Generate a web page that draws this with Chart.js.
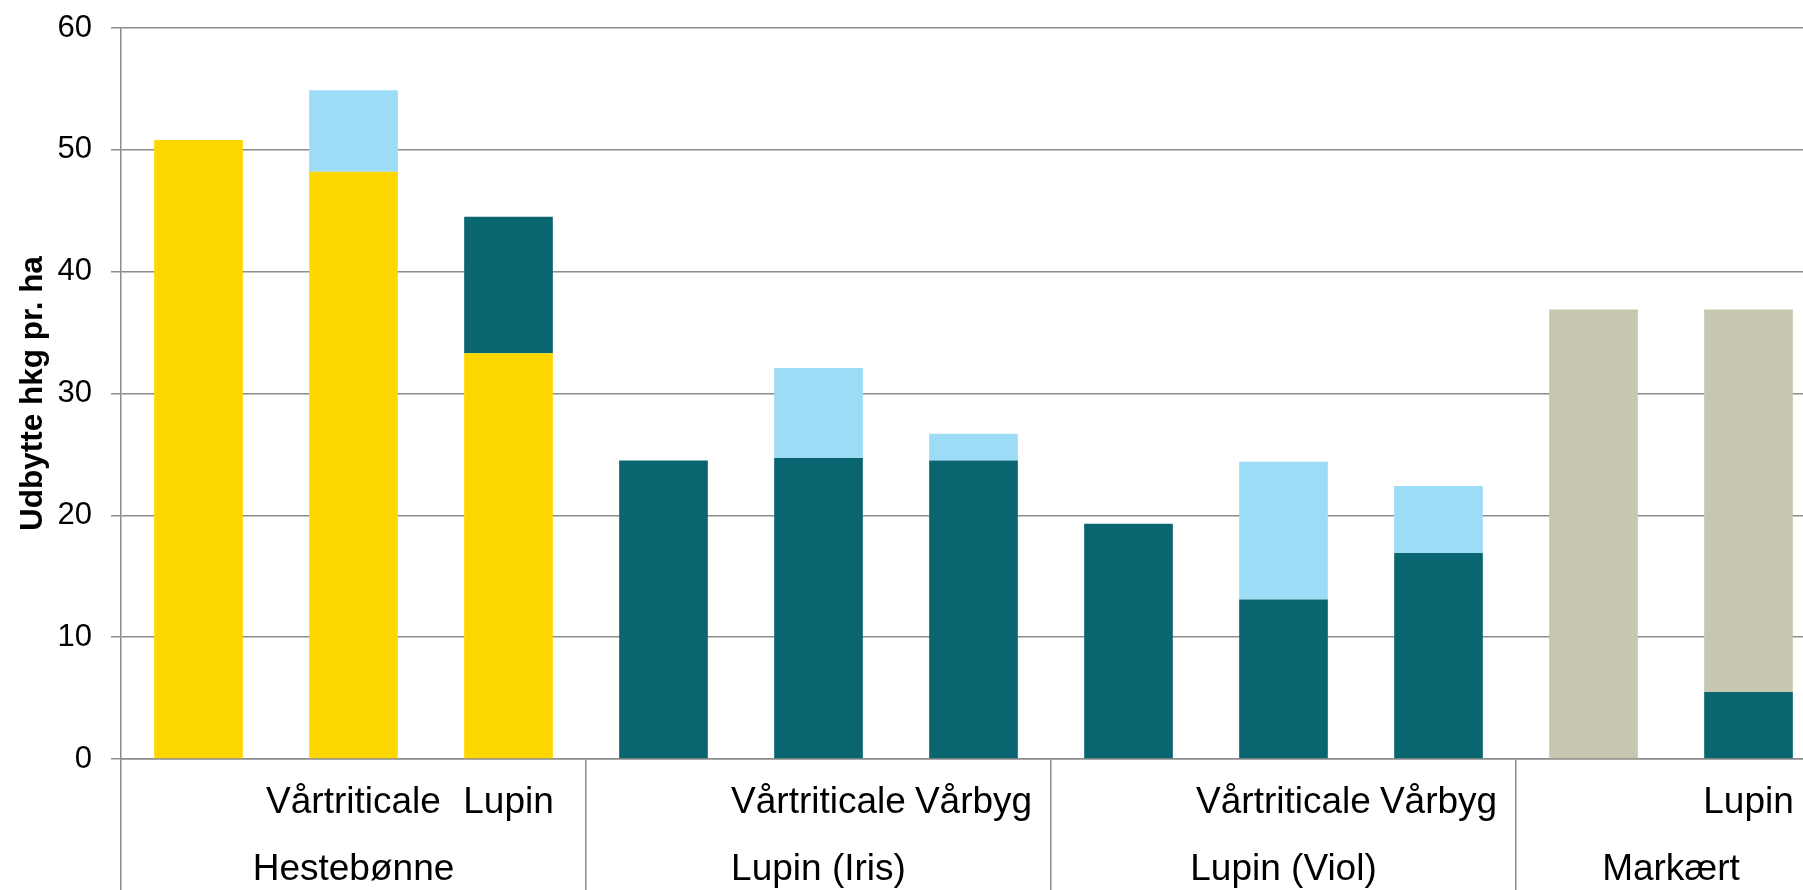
<!DOCTYPE html>
<html>
<head>
<meta charset="utf-8">
<script src="https://cdn.jsdelivr.net/npm/chart.js@4.4.1/dist/chart.umd.min.js"></script>
<style>
html, body { margin: 0; padding: 0; background: #ffffff; overflow: hidden; }
#wrap { position: relative; width: 1826px; height: 890px; }
</style>
</head>
<body>
<div id="wrap"><canvas id="c"></canvas></div>
<script>
// ---- data ----
const subLabels = ['', 'Vårtriticale', 'Lupin', '', 'Vårtriticale', 'Vårbyg', '', 'Vårtriticale', 'Vårbyg', '', 'Lupin'];
const groupNames = ['Hestebønne', 'Lupin (Iris)', 'Lupin (Viol)', 'Markært'];
const groupSizes = [3, 3, 3, 2];

const hestebonne = [50.8, 48.2, 33.3, null, null, null, null, null, null, null, null];
const lupin      = [null, null, 11.2, 24.5, 24.7, 24.5, 19.3, 13.1, 16.9, null, 5.5];
const markaert   = [null, null, null, null, null, null, null, null, null, 36.9, 31.4];
const korn       = [null, 6.7, null, null, 7.4, 2.2, null, 11.3, 5.5, null, null];

const yTickValues = [0, 10, 20, 30, 40, 50, 60];
const yTitle = 'Udbytte hkg pr. ha';

// ---- derived: group starts, and group labels on a half-category grid ----
const nCats = subLabels.length;
const groupStarts = [];
const halfLabels = new Array(nCats * 2 + 1).fill('');
let acc = 0;
groupSizes.forEach((s, g) => {
  groupStarts.push(acc);
  halfLabels[acc * 2 + s] = groupNames[g];   // centre of the group, in half-category steps
  acc += s;
});

const GRID = '#8c8c8c';
Chart.defaults.font.family = "'Liberation Sans', Arial, sans-serif";
Chart.defaults.color = '#000000';

new Chart(document.getElementById('c'), {
  type: 'bar',
  data: {
    labels: subLabels,
    datasets: [
      { label: 'Hestebønne', data: hestebonne, backgroundColor: '#FFD700' },
      { label: 'Lupin', data: lupin, backgroundColor: '#096570' },
      { label: 'Markært', data: markaert, backgroundColor: '#C7C7B1' },
      { label: 'Korn', data: korn, backgroundColor: '#9DDCF7' }
    ]
  },
  options: {
    responsive: true,
    maintainAspectRatio: false,
    animation: false,
    events: [],
    layout: { padding: { top: 28, left: 0, right: 0, bottom: 0 } },
    datasets: { bar: { categoryPercentage: 1.0, barPercentage: 0.572, borderWidth: 0 } },
    plugins: { legend: { display: false }, tooltip: { enabled: false }, title: { display: false } },
    scales: {
      x: {
        type: 'category',
        stacked: true,
        offset: true,
        position: 'bottom',
        weight: 0,
        grid: {
          display: true,
          drawOnChartArea: false,
          drawTicks: true,
          offset: true,
          tickLength: 131,
          lineWidth: 1.5,
          color: (ctx) => (ctx.type === 'tick' && groupStarts.includes(ctx.index)) ? GRID : 'rgba(0,0,0,0)'
        },
        border: { display: true, color: GRID, width: 1.5 },
        ticks: {
          autoSkip: false, maxRotation: 0, minRotation: 0,
          padding: -109,
          font: { size: 37 }, color: '#000'
        },
        afterFit: (scale) => { scale.height = 66; scale.paddingLeft = 0; scale.paddingRight = 0; }
      },
      x2: {
        type: 'category',
        labels: halfLabels,
        offset: false,
        position: 'bottom',
        weight: 1,
        grid: { display: false, drawTicks: false },
        border: { display: false },
        ticks: {
          autoSkip: false, maxRotation: 0, minRotation: 0,
          padding: 22.6,
          font: { size: 37 }, color: '#000'
        },
        afterFit: (scale) => { scale.height = 65; scale.paddingLeft = 0; scale.paddingRight = 0; }
      },
      y: {
        type: 'linear',
        stacked: true,
        min: 0,
        max: 60,
        afterBuildTicks: (scale) => { scale.ticks = yTickValues.map(v => ({ value: v })); },
        grid: { color: GRID, lineWidth: 1.5, tickLength: 10, drawTicks: true },
        border: { display: true, color: GRID, width: 1.5 },
        ticks: { padding: 19, font: { size: 31 }, color: '#000' },
        title: {
          display: true,
          text: yTitle,
          font: { size: 31.5, weight: 'bold' },
          color: '#000',
          padding: { top: 14.5, bottom: 0 }
        },
        afterFit: (scale) => { scale.width = 121; scale.paddingTop = 0; scale.paddingBottom = 0; }
      }
    }
  }
});
</script>
</body>
</html>
